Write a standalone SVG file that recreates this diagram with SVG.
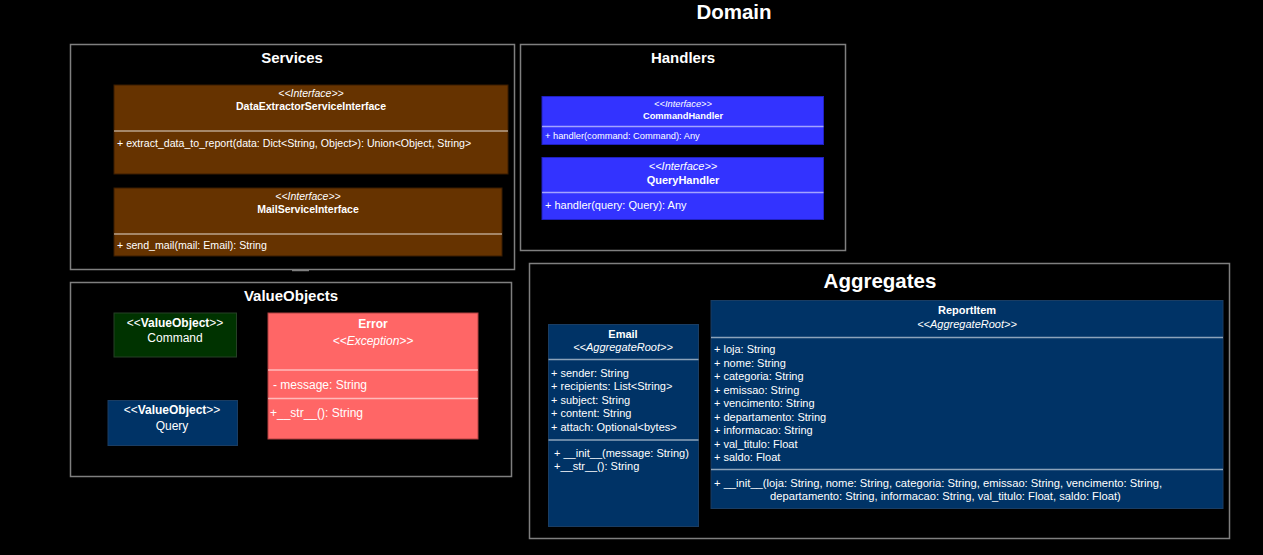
<svg xmlns="http://www.w3.org/2000/svg" width="1263" height="555" viewBox="0 0 1263 555">
<style>
text{font-family:"Liberation Sans",Arial,sans-serif;fill:#ffffff}
.frame{fill:#000000;stroke:#7f7f7f;stroke-width:1.5}
.ft{font-weight:bold;font-size:15px;text-anchor:middle}
.c{text-anchor:middle}
.b{font-weight:bold}
.i{font-style:italic}
.div{stroke:#ffffff;stroke-opacity:0.55;stroke-width:1.5}
.brown{fill:#663300;stroke:#3a1d00;stroke-width:1}
.blue{fill:#3333ff;stroke:#2020c0;stroke-width:1}
.navy{fill:#003366;stroke:#1a3d63;stroke-width:1}
.green{fill:#003300;stroke:#264026;stroke-width:1}
.red{fill:#ff6666;stroke:#b04040;stroke-width:1}
</style>
<rect x="0" y="0" width="1263" height="555" fill="#000000"/>
<text x="734" y="19" class="c b" font-size="20.5">Domain</text>

<g id="services">
<rect class="frame" x="70.5" y="44.5" width="444" height="225"/>
<text x="292" y="63" class="ft">Services</text>
</g>
<g id="handlers">
<rect class="frame" x="520.5" y="44.5" width="325" height="206"/>
<text x="683" y="63" class="ft">Handlers</text>
</g>
<g id="valueobjects">
<rect class="frame" x="70.5" y="282.5" width="441" height="194"/>
<text x="291" y="301" class="ft">ValueObjects</text>
</g>
<g id="aggregates">
<rect class="frame" x="529.5" y="263.5" width="700" height="275"/>
<text x="880" y="288" class="c b" font-size="20.5">Aggregates</text>
</g>

<g id="connectors">
<line x1="292" y1="270.5" x2="309" y2="270.5" stroke="#7f7f7f" stroke-width="1.5"/>
</g>

<g id="DataExtractorServiceInterface">
<rect class="brown" x="114" y="85" width="394" height="89"/>
<line class="div" x1="114" y1="131" x2="508" y2="131"/>
<text x="311" y="97" class="c i" font-size="10.5">&lt;&lt;Interface&gt;&gt;</text>
<text x="311" y="110" class="c b" font-size="10.5">DataExtractorServiceInterface</text>
<text x="117" y="147" font-size="10.6">+ extract_data_to_report(data: Dict&lt;String, Object&gt;): Union&lt;Object, String&gt;</text>
</g>
<g id="MailServiceInterface">
<rect class="brown" x="114" y="188" width="388" height="68"/>
<line class="div" x1="114" y1="234" x2="502" y2="234"/>
<text x="308" y="200" class="c i" font-size="10.5">&lt;&lt;Interface&gt;&gt;</text>
<text x="308" y="213" class="c b" font-size="10.5">MailServiceInterface</text>
<text x="117" y="249" font-size="10.6">+ send_mail(mail: Email): String</text>
</g>

<g id="CommandHandler">
<rect class="blue" x="542" y="96.5" width="281.5" height="48"/>
<line class="div" x1="542" y1="126.5" x2="823.5" y2="126.5"/>
<text x="683" y="107" class="c i" font-size="9.3">&lt;&lt;Interface&gt;&gt;</text>
<text x="683" y="119" class="c b" font-size="9.3">CommandHandler</text>
<text x="545" y="139" font-size="9.3">+ handler(command: Command): Any</text>
</g>
<g id="QueryHandler">
<rect class="blue" x="542" y="157.5" width="281.5" height="62"/>
<line class="div" x1="542" y1="192.5" x2="823.5" y2="192.5"/>
<text x="683" y="170" class="c i" font-size="11">&lt;&lt;Interface&gt;&gt;</text>
<text x="683" y="184" class="c b" font-size="11">QueryHandler</text>
<text x="545" y="209" font-size="11">+ handler(query: Query): Any</text>
</g>

<g id="Command">
<rect class="green" x="114" y="313" width="122.5" height="44"/>
<text x="175" y="327" class="c" font-size="12">&lt;&lt;<tspan class="b">ValueObject</tspan>&gt;&gt;</text>
<text x="175" y="342" class="c" font-size="12">Command</text>
</g>
<g id="Query">
<rect class="navy" x="108" y="400.5" width="129.5" height="45"/>
<text x="172" y="414" class="c" font-size="12">&lt;&lt;<tspan class="b">ValueObject</tspan>&gt;&gt;</text>
<text x="172" y="430" class="c" font-size="12">Query</text>
</g>
<g id="Error">
<rect class="red" x="268" y="313" width="210" height="126"/>
<line class="div" x1="268" y1="370" x2="478" y2="370"/>
<line class="div" x1="268" y1="398.5" x2="478" y2="398.5"/>
<text x="373" y="328" class="c b" font-size="12">Error</text>
<text x="373" y="345" class="c i" font-size="12">&lt;&lt;Exception&gt;&gt;</text>
<text x="273" y="389" font-size="12">- message: String</text>
<text x="270" y="417" font-size="12">+__str__(): String</text>
</g>

<g id="Email">
<rect class="navy" x="548.5" y="324.5" width="150" height="202"/>
<line class="div" x1="548.5" y1="359.5" x2="698.5" y2="359.5"/>
<line class="div" x1="548.5" y1="440" x2="698.5" y2="440"/>
<text x="623" y="338" class="c b" font-size="11">Email</text>
<text x="623" y="351" class="c i" font-size="11">&lt;&lt;AggregateRoot&gt;&gt;</text>
<text x="551" y="377" font-size="11">+ sender: String</text>
<text x="551" y="390" font-size="11">+ recipients: List&lt;String&gt;</text>
<text x="551" y="404" font-size="11">+ subject: String</text>
<text x="551" y="417" font-size="11">+ content: String</text>
<text x="551" y="431" font-size="11">+ attach: Optional&lt;bytes&gt;</text>
<text x="554" y="457" font-size="11">+ __init__(message: String)</text>
<text x="554" y="470" font-size="11">+__str__(): String</text>
</g>

<g id="ReportItem">
<rect class="navy" x="711" y="300.5" width="512" height="208"/>
<line class="div" x1="711" y1="337.5" x2="1223" y2="337.5"/>
<line class="div" x1="711" y1="469.5" x2="1223" y2="469.5"/>
<text x="967" y="314" class="c b" font-size="11">ReportItem</text>
<text x="967" y="328" class="c i" font-size="11">&lt;&lt;AggregateRoot&gt;&gt;</text>
<text x="714" y="353" font-size="11">+ loja: String</text>
<text x="714" y="367" font-size="11">+ nome: String</text>
<text x="714" y="380" font-size="11">+ categoria: String</text>
<text x="714" y="394" font-size="11">+ emissao: String</text>
<text x="714" y="407" font-size="11">+ vencimento: String</text>
<text x="714" y="421" font-size="11">+ departamento: String</text>
<text x="714" y="434" font-size="11">+ informacao: String</text>
<text x="714" y="448" font-size="11">+ val_titulo: Float</text>
<text x="714" y="461" font-size="11">+ saldo: Float</text>
<text x="714" y="487" font-size="11.2">+ __init__(loja: String, nome: String, categoria: String, emissao: String, vencimento: String,</text>
<text x="770" y="500" font-size="11.2">departamento: String, informacao: String, val_titulo: Float, saldo: Float)</text>
</g>
</svg>
